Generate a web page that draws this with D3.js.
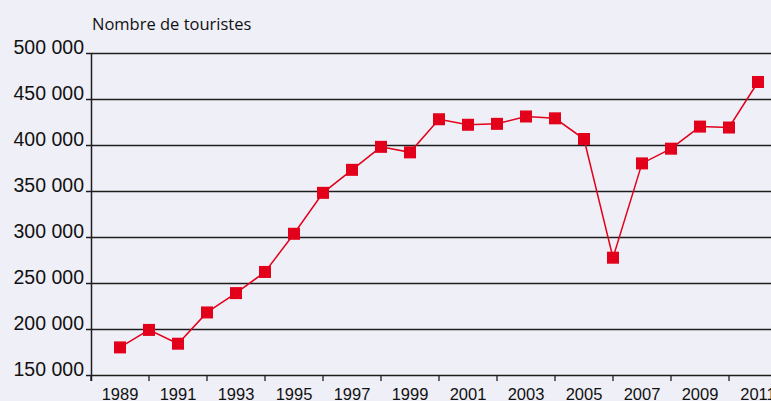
<!DOCTYPE html>
<html lang="fr">
<head>
<meta charset="utf-8">
<title>Nombre de touristes</title>
<script src="https://cdn.jsdelivr.net/npm/d3@7"></script>
<style>
  body { margin: 0; background: #efeff7; }
  svg { display: block; }
  .ylab, .xlab { font-family: "Liberation Sans", Arial, sans-serif; fill: #111; }
</style>
</head>
<body>
<script>
// data
var years = [1989, 1990, 1991, 1992, 1993, 1994, 1995, 1996, 1997, 1998, 1999, 2000,
             2001, 2002, 2003, 2004, 2005, 2006, 2007, 2008, 2009, 2010, 2011];
var tourists = [180000, 199000, 184000, 218000, 239000, 262000, 303500, 348000, 373000, 398000, 392000, 428000,
                422000, 423000, 431000, 429000, 406500, 277500, 380000, 396000, 420000, 419000, 468500];
var yTicks = [150000, 200000, 250000, 300000, 350000, 400000, 450000, 500000];
var xTickLabels = [1989, 1991, 1993, 1995, 1997, 1999, 2001, 2003, 2005, 2007, 2009, 2011];

var w = 771, h = 401;

var svg = d3.select("body").append("svg").attr("width", w).attr("height", h);

// x: one year = 29px, 1989 sits at 120
var x = d3.scaleLinear().domain([1988, 2011]).range([91, 91 + 23 * 29]);
var y = d3.scaleLinear().domain([150000, 500000]).range([375, 53]);

var fmt = function(v) { return d3.format(",")(v).replace(/,/g, " "); };

// horizontal grid lines
svg.selectAll("line.grid")
    .data(yTicks)
    .enter()
    .append("line")
    .attr("class", "grid")
    .attr("x1", 86).attr("x2", w)
    .attr("y1", d => Math.round(y(d)) + 0.5).attr("y2", d => Math.round(y(d)) + 0.5)
    .style("stroke", "#1e1e1e")
    .style("stroke-width", 1.3);

// y labels
svg.selectAll("text.ylab")
    .data(yTicks)
    .enter()
    .append("text")
    .attr("class", "ylab")
    .attr("x", 84)
    .attr("y", d => y(d) + 0.5)
    .attr("text-anchor", "end")
    .style("font-size", "19.5px")
    .text(fmt);

// y axis line
svg.append("line")
    .attr("x1", 91.5).attr("x2", 91.5)
    .attr("y1", y(500000)).attr("y2", 381)
    .style("stroke", "#1e1e1e").style("stroke-width", 1.5);

// x axis ticks every 2 years, labels between them
var tickYears = d3.range(1988, 2012, 2);
svg.selectAll("line.xtick")
    .data(tickYears)
    .enter()
    .append("line")
    .attr("class", "xtick")
    .attr("x1", d => x(d)).attr("x2", d => x(d))
    .attr("y1", 375).attr("y2", 381)
    .style("stroke", "#1e1e1e").style("stroke-width", 1.3);

svg.selectAll("text.xlab")
    .data(xTickLabels)
    .enter()
    .append("text")
    .attr("class", "xlab")
    .attr("x", d => x(d))
    .attr("y", 399.5)
    .attr("text-anchor", "middle")
    .style("font-size", "16.5px")
    .text(d => d);

// axis title
svg.append("text")
    .attr("x", 92).attr("y", 29.5)
    .style("font-family", "'Open Sans', sans-serif")
    .style("font-size", "16.5px")
    .style("fill", "#111")
    .text("Nombre de touristes");

// series
var line = d3.line()
    .x((d, i) => x(years[i]))
    .y(d => y(d));

svg.append("path")
    .datum(tourists)
    .attr("d", line)
    .style("fill", "none")
    .style("stroke", "#e2001a")
    .style("stroke-width", 1.5);

var sq = 12;
svg.selectAll("rect.pt")
    .data(tourists)
    .enter()
    .append("rect")
    .attr("class", "pt")
    .attr("x", (d, i) => x(years[i]) - sq / 2)
    .attr("y", d => y(d) - sq / 2)
    .attr("width", sq).attr("height", sq)
    .style("fill", "#e2001a");
</script>
</body>
</html>
